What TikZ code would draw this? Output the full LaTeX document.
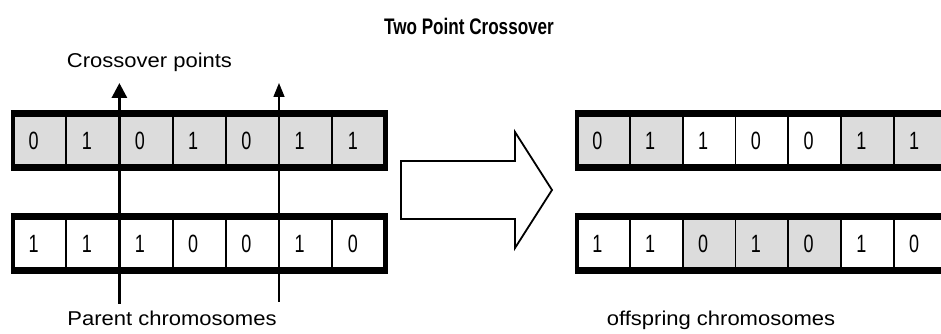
\documentclass[tikz,border=0pt]{standalone}
\usepackage{fontspec}
\setmainfont{Liberation Sans}
\newfontfamily\digitfont[FakeStretch=0.72]{Liberation Sans}
\newfontfamily\labelfont[FakeStretch=1.1]{Liberation Sans}
\newfontfamily\titlefont[FakeStretch=0.76]{Liberation Sans}
\usetikzlibrary{arrows.meta}
\definecolor{cellgray}{RGB}{220,220,220}
\tikzset{
  cellbox/.style={line width=1.8pt, minimum width=53.2pt, minimum height=54pt,
    inner sep=0pt, outer sep=0pt, anchor=north west},
  digit/.style={font=\digitfont\fontsize{25}{25}\selectfont, inner sep=0pt},
  lbl/.style={font=\labelfont\fontsize{20}{21}\selectfont, inner sep=0pt},
  ttl/.style={font=\titlefont\bfseries\fontsize{22.5}{24}\selectfont, inner sep=0pt},
  band/.style={line width=7pt},
  side/.style={line width=4.5pt},
}
\begin{document}
\begin{tikzpicture}[x=1pt,y=-1pt]
\useasboundingbox (0,0) rectangle (941,334);
\clip (0,0) rectangle (941,334);
% --- chromosome rows ---
\foreach \pre/\xo/\yo/\w/\digs/\fills in {
  tl/13/113.5/53.2/{0,1,0,1,0,1,1}/{1,1,1,1,1,1,1},
  bl/13/216.5/53.2/{1,1,1,0,0,1,0}/{0,0,0,0,0,0,0},
  tr/577/113.5/52.8/{0,1,1,0,0,1,1}/{1,1,0,0,0,1,1},
  br/577/216.5/52.8/{1,1,0,1,0,1,0}/{0,0,1,1,1,0,0}} {
  \foreach \d [count=\i] in \digs {
    \pgfmathsetmacro{\xx}{\xo+(\i-1)*\w}
    \node[cellbox, minimum width=\w pt] (\pre\i) at (\xx,\yo) {};
  }
  \foreach \f [count=\i] in \fills {
    \ifnum\f=1 \fill[cellgray] (\pre\i.north west) rectangle (\pre\i.south east);
    \else \fill[white] (\pre\i.north west) rectangle (\pre\i.south east); \fi
  }
  \foreach \f [count=\i] in \fills {
    \draw[line width=1.8pt] (\pre\i.north west) rectangle (\pre\i.south east);
  }
  \foreach \d [count=\i] in \digs {
    \node[digit] (\pre\i d) at ([xshift=-6pt]\pre\i.center) {\d};
  }
  \draw[band] ([xshift=-2.25pt]\pre1.north west) -- ([xshift=2.25pt]\pre7.north east);
  \draw[band] ([xshift=-2.25pt]\pre1.south west) -- ([xshift=2.25pt]\pre7.south east);
  \draw[side] (\pre1.north west) -- (\pre1.south west);
  \draw[side] (\pre7.north east) -- (\pre7.south east);
}
% --- crossover arrows ---
\coordinate (cpA) at ([yshift=30.5pt]tl2.north east);
\coordinate (cpB) at ([yshift=30.5pt]tl5.north east);
\coordinate (cpA0) at ([yshift=-33pt]bl2.south east);
\coordinate (cpB0) at ([yshift=-31pt]bl5.south east);
\draw[line width=3pt, -{Triangle[length=15pt,width=15pt]}] (cpA0) -- (cpA);
\draw[line width=1.5pt, -{Triangle[length=14pt,width=11pt]}] (cpB0) -- (cpB);
% --- big block arrow ---
\draw[line width=1.8pt, line join=miter, fill=white]
  (401,161) -- (515,161) -- (515,132) -- (552,190) -- (515,248) -- (515,219) -- (401,219) -- cycle;
% --- texts ---
\node[ttl] (title) at (469,26) {Two Point Crossover};
\node[lbl] (cptext) at (149.5,62) {Crossover points};
\node[lbl] (parent) at (172,318) {Parent chromosomes};
\node[lbl] (offspring) at (721,320) {offspring chromosomes};
\end{tikzpicture}
\end{document}
